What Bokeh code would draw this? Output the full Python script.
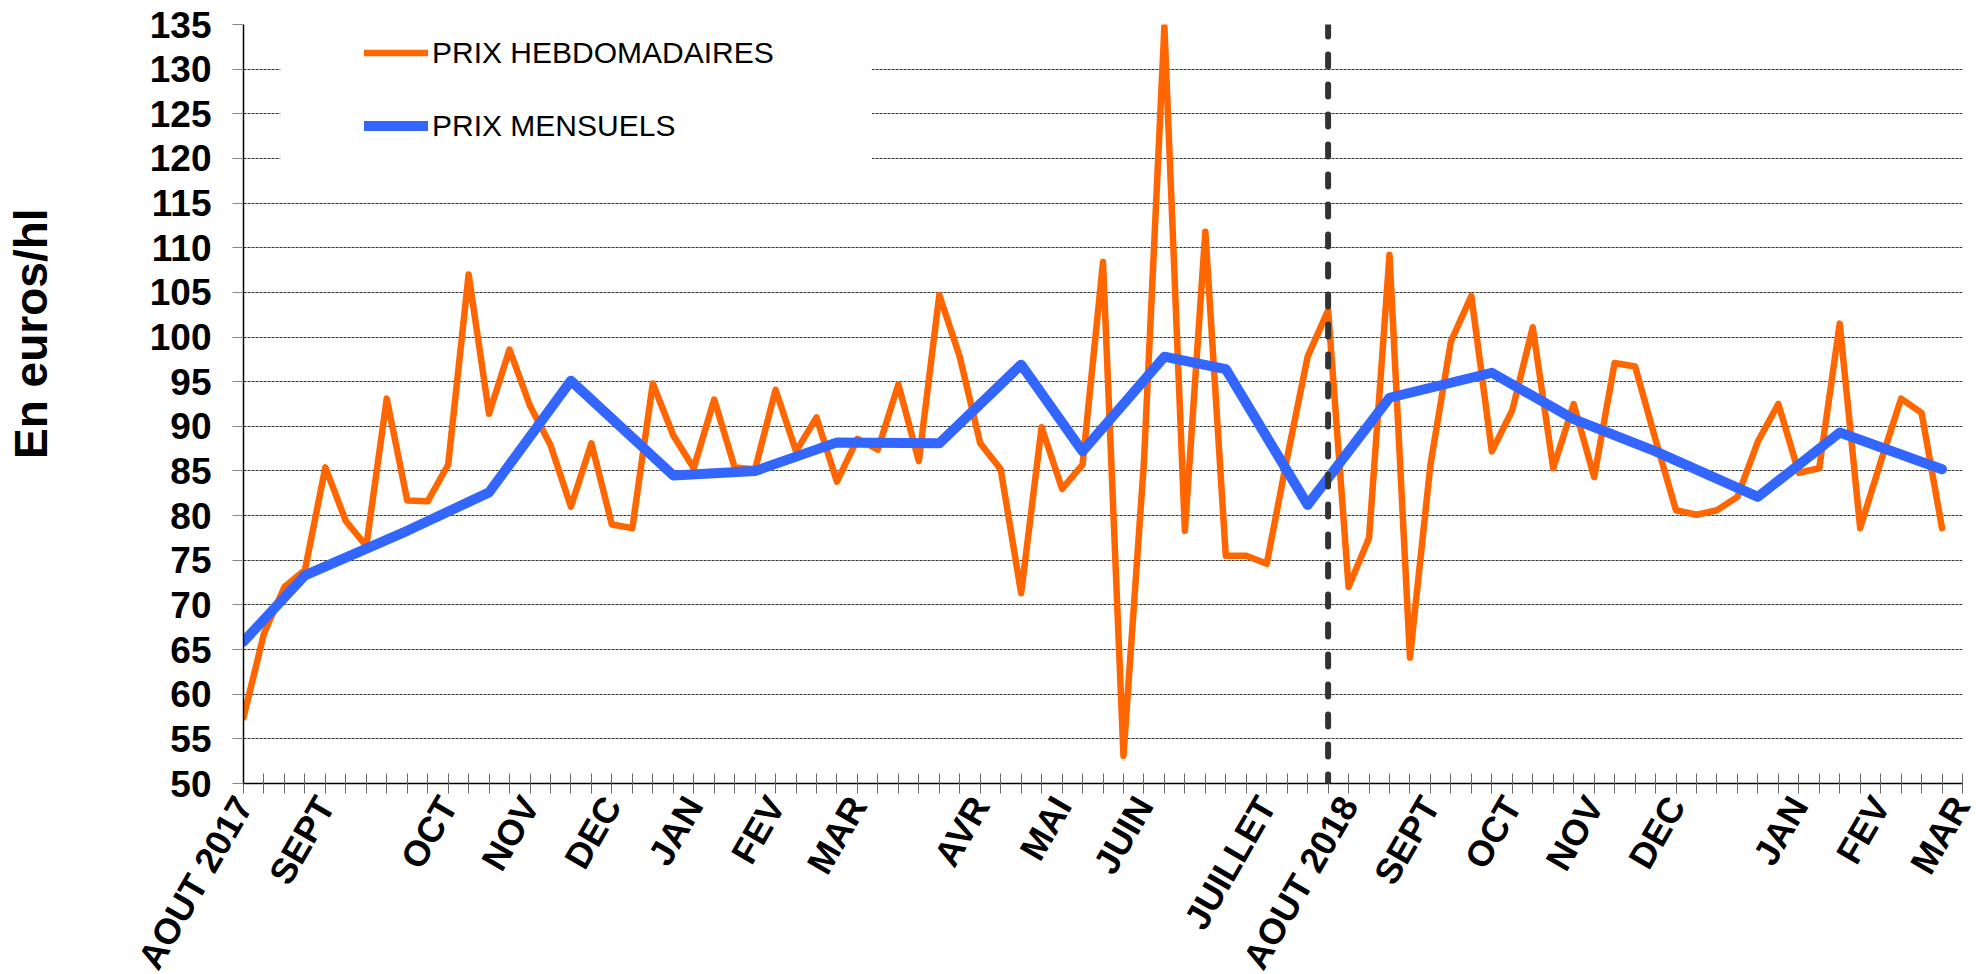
import math
from bokeh.plotting import figure
from bokeh.models import (Range1d, FixedTicker, Legend, LegendItem, Span,
                          BoxAnnotation, ColumnDataSource)
from bokeh.embed import file_html
from bokeh.resources import INLINE

# ---- data -------------------------------------------------------------
weekly_prices = [57.4, 66.8, 72.0, 73.9, 85.4, 79.4, 76.6, 93.1, 81.7, 81.6,
                 85.7, 107.0, 91.4, 98.6, 92.3, 87.9, 81.0, 88.1, 79.0, 78.6,
                 94.8, 89.0, 85.3, 93.0, 85.4, 85.2, 94.1, 87.2, 91.0, 83.8,
                 88.6, 87.4, 94.7, 86.1, 104.7, 97.8, 88.1, 85.2, 71.3, 89.9,
                 83.0, 85.7, 108.4, 53.1, 86.0, 134.8, 78.3, 111.8, 75.5, 75.5,
                 74.6, 86.5, 97.8, 103.0, 72.0, 77.5, 109.2, 64.1, 85.7, 99.5,
                 104.6, 87.2, 91.8, 101.1, 85.3, 92.5, 84.3, 97.1, 96.7, 88.5,
                 80.6, 80.1, 80.6, 82.1, 88.3, 92.5, 84.8, 85.3, 101.5, 78.6,
                 86.0, 93.1, 91.5, 78.6]
weekly_index = list(range(len(weekly_prices)))

monthly_index = [0, 3, 8, 12, 16, 21, 25, 29, 34, 38, 41, 45, 48, 52, 56, 61,
                 65, 69, 74, 78, 83]
monthly_prices = [65.9, 73.3, 78.3, 82.6, 95.1, 84.5, 85.0, 88.2, 88.1, 96.9,
                  87.2, 97.8, 96.4, 81.2, 93.2, 96.0, 90.8, 87.2, 82.1, 89.3,
                  85.2]

month_tick_index = [0, 4, 10, 14, 18, 22, 26, 30, 36, 40, 44, 50, 54, 58, 62,
                    66, 70, 76, 80, 84]
month_tick_labels = ["AOUT 2017", "SEPT", "OCT", "NOV", "DEC", "JAN", "FEV",
                     "MAR", "AVR", "MAI", "JUIN", "JUILLET", "AOUT 2018",
                     "SEPT", "OCT", "NOV", "DEC", "JAN", "FEV", "MAR"]
n_categories = 84
split_week = 53
y_ticks = list(range(50, 136, 5))
y_title = "En euros/hl"

# ---- figure -----------------------------------------------------------
FONT = "Liberation Sans"
p = figure(frame_width=1719, frame_height=759,
           min_border_left=243, min_border_right=16, min_border_top=24,
           min_border_bottom=150,
           x_range=Range1d(0, n_categories), y_range=Range1d(50, 135),
           output_backend="svg", toolbar_location=None)
p.outline_line_color = None
p.background_fill_color = "white"

# grid
p.xgrid.visible = False
p.ygrid.ticker = FixedTicker(ticks=y_ticks)
p.ygrid.grid_line_color = "#333333"
p.ygrid.grid_line_dash = "3 1"
p.ygrid.grid_line_width = 1

# y axis
ya = p.yaxis[0]
ya.ticker = FixedTicker(ticks=y_ticks)
ya.axis_line_color = "black"
ya.axis_line_width = 1.5
ya.major_tick_line_color = "#888888"
ya.major_tick_out = 11
ya.major_tick_in = 0
ya.minor_tick_line_color = None
ya.major_label_text_font = FONT
ya.major_label_text_font_style = "bold"
ya.major_label_text_font_size = "37px"
ya.major_label_text_color = "black"
ya.major_label_standoff = 21
# title of the y axis, pushed up from the frame centre with leading no-break spaces
ya.axis_label = "\u00a0" * 11 + y_title
ya.axis_label_text_font = FONT
ya.axis_label_text_font_style = "bold"
ya.axis_label_text_font_size = "46px"
ya.axis_label_text_color = "black"
ya.axis_label_standoff = 90

# x axis
xa = p.xaxis[0]
xa.ticker = FixedTicker(ticks=list(range(n_categories + 1)))
overrides = {i: "" for i in range(n_categories + 1)}
for i, lab in zip(month_tick_index, month_tick_labels):
    overrides[i] = lab
xa.major_label_overrides = overrides
xa.major_label_orientation = math.pi / 3
xa.axis_line_color = "black"
xa.axis_line_width = 1.5
xa.major_tick_line_color = "#666666"
xa.major_tick_in = 10
xa.major_tick_out = 10
xa.minor_tick_line_color = None
xa.major_label_text_font = FONT
xa.major_label_text_font_style = "bold"
xa.major_label_text_font_size = "36px"
xa.major_label_text_color = "black"
xa.major_label_standoff = 6

# white backdrop behind the legend
box = BoxAnnotation(left=1.8, right=30.7, bottom=117, top=136,
                    fill_color="white", fill_alpha=1, line_color=None,
                    level="underlay")
p.add_layout(box)

# data lines
src_w = ColumnDataSource(dict(x=weekly_index, y=weekly_prices))
src_m = ColumnDataSource(dict(x=monthly_index, y=monthly_prices))
r_w = p.line("x", "y", source=src_w, line_color="#FF6600", line_width=6.5,
             line_join="round", line_cap="round")
r_m = p.line("x", "y", source=src_m, line_color="#3366FF", line_width=10,
             line_join="round", line_cap="round")

# vertical dashed separator
span = Span(location=split_week, dimension="height", line_color="#333333",
            line_width=6, line_dash="12 18", line_cap="round")
p.add_layout(span)

# legend
legend = Legend(items=[LegendItem(label="PRIX HEBDOMADAIRES", renderers=[r_w]),
                       LegendItem(label="PRIX MENSUELS", renderers=[r_m])],
                location=(121, 639), orientation="vertical",
                glyph_width=64, glyph_height=37, label_height=37,
                spacing=36, padding=0, margin=0, label_standoff=4,
                label_text_font=FONT, label_text_font_size="30px",
                label_text_color="black",
                background_fill_alpha=0, border_line_alpha=0)
p.add_layout(legend)

open("out.html", "w").write(file_html(p, INLINE))
